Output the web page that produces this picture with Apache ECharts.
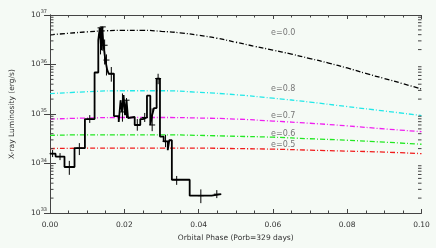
<!DOCTYPE html>
<html><head><meta charset="utf-8">
<script src="https://cdn.jsdelivr.net/npm/echarts@6/dist/echarts.min.js"></script>
<style>html,body{margin:0;padding:0;background:#f5faf5}#c{width:436px;height:248px}</style>
</head><body><div id="c"></div>
<script>
// ---- data ----
const phaseFine = [0,0.005,0.01,0.015,0.02,0.025,0.03,0.035,0.04,0.045,0.05,0.055,0.06,0.065,0.07,0.075,0.08,0.085,0.09,0.095,0.10];
const phaseCoarse = [0,0.01,0.02,0.03,0.04,0.05,0.06,0.07,0.08,0.09,0.10];
const e00 = [3.98e36,4.27e36,4.57e36,4.79e36,4.90e36,4.90e36,4.68e36,4.37e36,3.89e36,3.39e36,2.82e36,2.34e36,1.95e36,1.62e36,1.32e36,1.07e36,8.5e35,6.6e35,5.2e35,4.1e35,3.2e35];
const e08 = [2.57e35,2.82e35,2.95e35,2.95e35,2.75e35,2.45e35,2.09e35,1.74e35,1.41e35,1.15e35,9.3e34];
const e07 = [7.9e34,8.3e34,8.5e34,8.5e34,8.3e34,7.9e34,7.2e34,6.5e34,5.75e34,5.0e34,4.4e34];
const e06 = [3.7e34,3.8e34,3.8e34,3.8e34,3.7e34,3.55e34,3.4e34,3.16e34,2.95e34,2.7e34,2.45e34];
const e05 = [2.0e34,2.04e34,2.04e34,2.04e34,2.04e34,2.0e34,1.95e34,1.86e34,1.78e34,1.70e34,1.58e34];
const curveNames = ['e=0.0','e=0.8','e=0.7','e=0.6','e=0.5'];

// observed light curve: bin left edges and luminosity (last edge closes the last bin)
const binEdges = [0,0.0015,0.0039,0.0066,0.0094,0.0120,0.0130,0.0134,0.0138,0.0140,0.0144,0.0149,0.0154,0.0158,0.0172,0.0185,0.0190,0.0194,0.0198,0.0202,0.0206,0.0210,0.0215,0.0228,0.0243,0.0250,0.0261,0.0270,0.0275,0.0280,0.0287,0.0296,0.0306,0.0317,0.0321,0.0328,0.0376,0.0435,0.0461];
const binLum = [1.58e34,1.38e34,8.5e33,2.04e34,7.9e34,6.9e35,3.1e36,5.5e36,1.95e36,5.75e36,2.45e36,1.23e36,7.8e35,6.5e35,9.1e34,6.9e34,1.9e35,1.1e35,2.4e35,9.5e34,1.9e35,8.3e34,8.7e34,6.0e34,7.9e34,8.5e34,2.35e35,6.0e34,9.5e34,1.32e35,5.2e35,3.5e34,2.8e34,1.86e34,2.95e34,4.7e33,2.24e33,2.4e33];

// error bars
const errPhase = [0.0007,0.0027,0.0052,0.0079,0.0107,0.0136,0.0142,0.0147,0.0152,0.0165,0.0195,0.0206,0.0235,0.0255,0.0275,0.0291,0.0311,0.0341,0.0406,0.0449];
const errLum   = [1.58e34,1.38e34,8.5e33,2.04e34,7.9e34,5.5e36,5.75e36,2.45e36,1.23e36,6.5e35,1.1e35,1.9e35,6.0e34,8.5e34,6.0e34,5.2e35,2.8e34,4.7e33,2.24e33,2.4e33];
const errLo    = [1.35e34,1.17e34,5.9e33,1.48e34,6.6e34,1.6e36,1.9e36,1.0e36,6e35,4.5e35,7e34,8.3e34,4.6e34,6.9e34,4.5e34,4.0e35,2.14e34,3.7e33,1.58e33,2.0e33];
const errHi    = [1.87e34,1.62e34,1.13e34,2.58e34,9.5e34,5.5e36,5.8e36,3.2e36,1.6e36,8.9e35,2.6e35,2.1e35,7.9e34,1.05e35,1.3e35,6.5e35,3.8e34,5.6e33,3.0e33,2.9e33];

const yMajor = [1e33,1e34,1e35,1e36,1e37];
const yMinor = [];
[1e33,1e34,1e35,1e36].forEach(d=>{for(let k=2;k<=9;k++) yMinor.push(k*d);});
const xMin = 0, xMax = 0.10, xStep = 0.02;

// ---- chart ----
const font = 'DejaVu Sans';
const txt = '#333';
const histData = binLum.map((v,i)=>[binEdges[i],v]);
histData.push([binEdges[binEdges.length-1], binLum[binLum.length-1]]);
const zip = (xs,ys)=>ys.map((v,i)=>[xs[i],v]);
const dashDot = [5,2,1,2];
const curveCols = ['#000000','#22e8e8','#f020f0','#22e822','#f01c1c'];
const curveData = [zip(phaseFine,e00),zip(phaseCoarse,e08),zip(phaseCoarse,e07),zip(phaseCoarse,e06),zip(phaseCoarse,e05)];

const chart = echarts.init(document.getElementById('c'), null, {renderer:'canvas'});
const axisLine = {show:true, lineStyle:{color:'#444', width:1}};
const option = {
  backgroundColor:'#f5faf5',
  animation:false,
  grid:{left:47.5, right:14.5, top:15, bottom:35},
  xAxis:[{
    type:'value', min:xMin, max:xMax, interval:xStep, position:'bottom',
    axisLine, splitLine:{show:false},
    axisTick:{inside:true, length:4, lineStyle:{color:'#444'}},
    minorTick:{show:true, splitNumber:4, length:2.5, lineStyle:{color:'#444'}},
    axisLabel:{fontFamily:font, fontSize:7.5, color:txt, margin:8, formatter:v=>v.toFixed(2)},
    name:'Orbital Phase (Porb=329 days)', nameLocation:'middle', nameGap:19,
    nameTextStyle:{fontFamily:font, fontSize:7.5, color:txt}
  },{
    type:'value', min:xMin, max:xMax, interval:xStep, position:'top',
    axisLine, splitLine:{show:false},
    axisTick:{inside:true, length:4, lineStyle:{color:'#444'}},
    minorTick:{show:true, splitNumber:4, length:2.5, lineStyle:{color:'#444'}},
    axisLabel:{show:false}
  }],
  yAxis:[{
    type:'log', logBase:10, min:yMajor[0], max:yMajor[yMajor.length-1], position:'left',
    axisLine, splitLine:{show:false},
    axisTick:{inside:true, length:6, lineStyle:{color:'#444'}},
    axisLabel:{fontFamily:font, color:txt, margin:3,
      formatter:v=>'{b|10}{s|'+Math.round(Math.log10(v))+'}',
      rich:{b:{fontFamily:font,fontSize:7.5,color:txt}, s:{fontFamily:font,fontSize:5,color:txt,padding:[0,0,6,0]}}},
    name:'X-ray Luminosity (erg/s)', nameLocation:'middle', nameGap:34,
    nameTextStyle:{fontFamily:font, fontSize:7.5, color:txt}
  },{
    type:'log', logBase:10, min:yMajor[0], max:yMajor[yMajor.length-1], position:'right',
    axisLine, splitLine:{show:false},
    axisTick:{inside:true, length:6, lineStyle:{color:'#444'}},
    axisLabel:{show:false}
  }],
  series:[
    ...curveData.map((d,i)=>({
      type:'line', name:curveNames[i], data:d, smooth:true, showSymbol:false, z:2,
      lineStyle:{color:curveCols[i], width:1.3, type:dashDot}
    })),
    {
      type:'custom', z:3, silent:true,
      data:yMinor.map(v=>[xMin,v]),
      renderItem:(p,api)=>{
        const v = api.value(1);
        const a = api.coord([xMin,v]), b = api.coord([xMax,v]);
        return {type:'group', children:[
          {type:'line', shape:{x1:a[0],y1:a[1],x2:a[0]+3.5,y2:a[1]}, style:{stroke:'#444',lineWidth:1}},
          {type:'line', shape:{x1:b[0]-3.5,y1:b[1],x2:b[0],y2:b[1]}, style:{stroke:'#444',lineWidth:1}}
        ]};
      }
    },
    {
      type:'custom', z:5, silent:true,
      data:errPhase.map((x,i)=>[x,errLum[i],errLo[i],errHi[i]]),
      renderItem:(p,api)=>{
        const x = api.value(0);
        const c = api.coord([x,api.value(1)]);
        const lo = api.coord([x,api.value(2)]), hi = api.coord([x,api.value(3)]);
        return {type:'group', children:[
          {type:'line', shape:{x1:lo[0],y1:lo[1],x2:hi[0],y2:hi[1]}, style:{stroke:'#000',lineWidth:1}},
          {type:'line', shape:{x1:c[0]-3,y1:c[1],x2:c[0]+3,y2:c[1]}, style:{stroke:'#000',lineWidth:1}}
        ]};
      }
    },
    {
      type:'line', name:'observed', data:histData, step:'end', showSymbol:false, z:4,
      lineStyle:{color:'#000', width:1.8}
    }
  ],
  graphic:[
    {type:'text', left:271, top:29, style:{text:curveNames[0], fontFamily:font, fontSize:8, fill:'#777'}},
    {type:'text', left:271, top:85, style:{text:curveNames[1], fontFamily:font, fontSize:8, fill:'#777'}},
    {type:'text', left:271, top:112, style:{text:curveNames[2], fontFamily:font, fontSize:8, fill:'#777'}},
    {type:'text', left:271, top:130, style:{text:curveNames[3], fontFamily:font, fontSize:8, fill:'#777'}},
    {type:'text', left:271, top:141, style:{text:curveNames[4], fontFamily:font, fontSize:8, fill:'#777'}}
  ]
};
chart.setOption(option);
</script></body></html>
